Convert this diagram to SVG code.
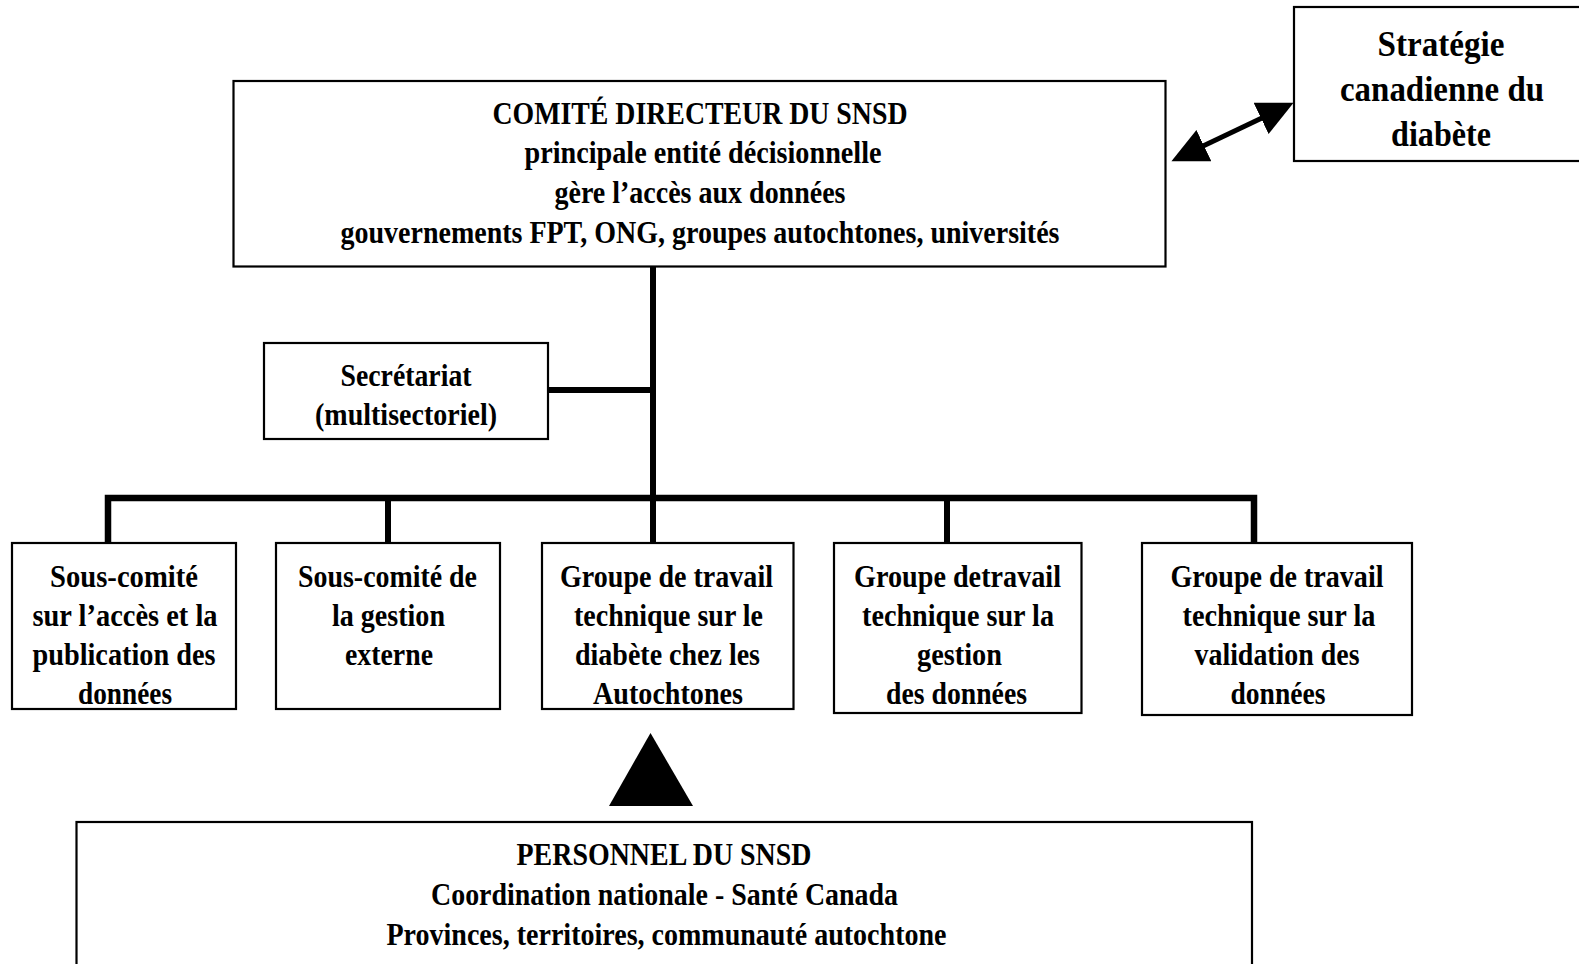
<svg xmlns="http://www.w3.org/2000/svg" width="1579" height="964" viewBox="0 0 1579 964">
<style>
.box{fill:#fff;stroke:#000;stroke-width:2.2}
.t{font-family:"Liberation Serif","Times New Roman",serif;font-weight:bold;font-size:31px;fill:#000;text-anchor:middle}
.big{font-size:35px}
.con{fill:none;stroke:#000;stroke-width:6;stroke-linejoin:miter;stroke-linecap:butt}
</style>
<defs>
<marker id="ah" markerUnits="userSpaceOnUse" markerWidth="40" markerHeight="40" viewBox="0 -14 30 28" refX="2" refY="0" orient="auto-start-reverse">
<path d="M0,-13 L27,0 L0,13 z" fill="#000"/>
</marker>
</defs>
<rect width="1579" height="964" fill="#fff"/>
<g id="connectors">
<path class="con" d="M653,266 V498"/>
<path class="con" d="M548,390 H653"/>
<path class="con" d="M108,543 V498 H1254 V543" style="stroke-width:6.5"/>
<path class="con" d="M388,498 V543"/>
<path class="con" d="M653,498 V543"/>
<path class="con" d="M947,498 V543"/>
<path d="M1201.5,146.8 L1263.5,117.2" stroke="#000" stroke-width="5" fill="none" marker-start="url(#ah)" marker-end="url(#ah)"/>
<polygon points="650.5,733 609,806 693,806" fill="#000"/>
</g>
<g id="comite">
<rect class="box" x="233.5" y="81" width="932" height="185.5"/>
<text class="t" x="700" y="124" textLength="415" lengthAdjust="spacingAndGlyphs">COMITÉ DIRECTEUR DU SNSD</text>
<text class="t" x="703" y="163" textLength="357" lengthAdjust="spacingAndGlyphs">principale entité décisionnelle</text>
<text class="t" x="700" y="203" textLength="291" lengthAdjust="spacingAndGlyphs">gère l’accès aux données</text>
<text class="t" x="700" y="243" textLength="719" lengthAdjust="spacingAndGlyphs">gouvernements FPT, ONG, groupes autochtones, universités</text>
</g>
<g id="strategie">
<rect class="box" x="1294" y="7" width="300" height="154"/>
<text class="t big" x="1441" y="56" textLength="127" lengthAdjust="spacingAndGlyphs">Stratégie</text>
<text class="t big" x="1442" y="101" textLength="204" lengthAdjust="spacingAndGlyphs">canadienne du</text>
<text class="t big" x="1441" y="146" textLength="100" lengthAdjust="spacingAndGlyphs">diabète</text>
</g>
<g id="secretariat">
<rect class="box" x="264" y="343" width="284" height="96"/>
<text class="t" x="406" y="386" textLength="131" lengthAdjust="spacingAndGlyphs">Secrétariat</text>
<text class="t" x="406" y="425" textLength="182" lengthAdjust="spacingAndGlyphs">(multisectoriel)</text>
</g>
<g id="sc-acces">
<rect class="box" x="12" y="543" width="224" height="166"/>
<text class="t" x="124" y="587" textLength="148" lengthAdjust="spacingAndGlyphs">Sous-comité</text>
<text class="t" x="125" y="626" textLength="185" lengthAdjust="spacingAndGlyphs">sur l’accès et la</text>
<text class="t" x="124" y="665" textLength="183" lengthAdjust="spacingAndGlyphs">publication des</text>
<text class="t" x="125" y="704" textLength="94" lengthAdjust="spacingAndGlyphs">données</text>
</g>
<g id="sc-gestion">
<rect class="box" x="276" y="543" width="224" height="166"/>
<text class="t" x="387.5" y="587" textLength="179" lengthAdjust="spacingAndGlyphs">Sous-comité de</text>
<text class="t" x="388.5" y="626" textLength="113" lengthAdjust="spacingAndGlyphs">la gestion</text>
<text class="t" x="389" y="665" textLength="88" lengthAdjust="spacingAndGlyphs">externe</text>
</g>
<g id="gt-autochtones">
<rect class="box" x="542" y="543" width="251.5" height="166"/>
<text class="t" x="666.5" y="587" textLength="213" lengthAdjust="spacingAndGlyphs">Groupe de travail</text>
<text class="t" x="668.5" y="626" textLength="189" lengthAdjust="spacingAndGlyphs">technique sur le</text>
<text class="t" x="667.5" y="665" textLength="185" lengthAdjust="spacingAndGlyphs">diabète chez les</text>
<text class="t" x="668" y="704" textLength="150" lengthAdjust="spacingAndGlyphs">Autochtones</text>
</g>
<g id="gt-gestion">
<rect class="box" x="834" y="543" width="247.5" height="170"/>
<text class="t" x="957.5" y="587" textLength="207" lengthAdjust="spacingAndGlyphs">Groupe detravail</text>
<text class="t" x="958" y="626" textLength="192" lengthAdjust="spacingAndGlyphs">technique sur la</text>
<text class="t" x="959.5" y="665" textLength="85" lengthAdjust="spacingAndGlyphs">gestion</text>
<text class="t" x="956.5" y="704" textLength="141" lengthAdjust="spacingAndGlyphs">des données</text>
</g>
<g id="gt-validation">
<rect class="box" x="1142" y="543" width="270" height="172"/>
<text class="t" x="1277" y="587" textLength="213" lengthAdjust="spacingAndGlyphs">Groupe de travail</text>
<text class="t" x="1279" y="626" textLength="193" lengthAdjust="spacingAndGlyphs">technique sur la</text>
<text class="t" x="1277" y="665" textLength="165" lengthAdjust="spacingAndGlyphs">validation des</text>
<text class="t" x="1278" y="704" textLength="95" lengthAdjust="spacingAndGlyphs">données</text>
</g>
<g id="personnel">
<rect class="box" x="76.5" y="822" width="1175.5" height="200"/>
<text class="t" x="664" y="865" textLength="295" lengthAdjust="spacingAndGlyphs">PERSONNEL DU SNSD</text>
<text class="t" x="664.5" y="905" textLength="467" lengthAdjust="spacingAndGlyphs">Coordination nationale - Santé Canada</text>
<text class="t" x="666.5" y="945" textLength="560" lengthAdjust="spacingAndGlyphs">Provinces, territoires, communauté autochtone</text>
</g>
</svg>
